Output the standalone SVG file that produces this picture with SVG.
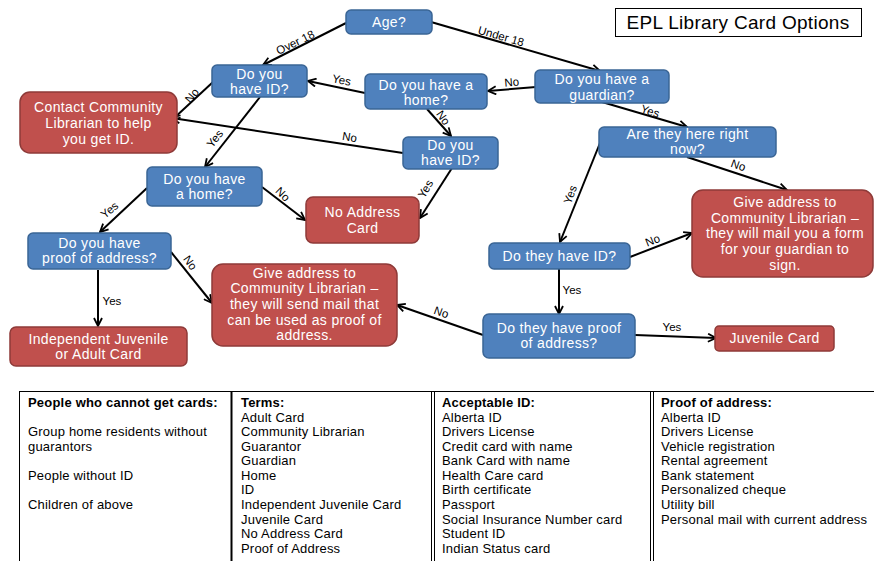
<svg xmlns="http://www.w3.org/2000/svg" width="874" height="561" viewBox="0 0 874 561">
<style>
.b{fill:#4F81BD;stroke:#3A6595;stroke-width:1.5}
.r{fill:#C0504D;stroke:#8E3A38;stroke-width:1.5}
.t{font-family:"Liberation Sans",Arial,sans-serif;font-size:14px;fill:#fff;text-anchor:middle;letter-spacing:0.35px}
.c{stroke:#000;stroke-width:2;fill:none;marker-end:url(#arr)}
.l{font-family:"Liberation Sans",Arial,sans-serif;font-size:11.5px;fill:#000;text-anchor:middle}
.tb{font-family:"Liberation Sans",Arial,sans-serif;font-size:13px;fill:#000;letter-spacing:0.2px}
.h{font-weight:bold}
.g{stroke:#000;stroke-width:1;fill:none}
</style>
<defs>
<marker id="arr" viewBox="0 0 10 10" refX="9" refY="5" markerWidth="10" markerHeight="10" markerUnits="userSpaceOnUse" orient="auto">
<path d="M1,1 L9,5 L1,9" fill="none" stroke="#000" stroke-width="1.8"/>
</marker>
</defs>
<rect width="874" height="561" fill="#fff"/>

<g id="title">
<rect x="615.5" y="8.5" width="246" height="28" fill="#fff" stroke="#000" stroke-width="1"/>
<text x="738" y="29" font-family="Liberation Sans,Arial,sans-serif" font-size="19" text-anchor="middle" letter-spacing="0.3">EPL Library Card Options</text>
</g>

<g id="connectors">
<line class="c" x1="346" y1="23" x2="263" y2="65"/>
<line class="c" x1="431" y1="22" x2="600" y2="71"/>
<line class="c" x1="536" y1="87" x2="488" y2="91"/>
<line class="c" x1="365" y1="93" x2="308" y2="81"/>
<line class="c" x1="213" y1="82" x2="172" y2="120"/>
<line class="c" x1="260" y1="97" x2="205" y2="167"/>
<line class="c" x1="427" y1="109" x2="451" y2="136"/>
<line class="c" x1="403" y1="153" x2="172" y2="118"/>
<line class="c" x1="452" y1="168" x2="420" y2="218"/>
<line class="c" x1="262" y1="187" x2="305" y2="220"/>
<line class="c" x1="147" y1="188" x2="100" y2="232"/>
<line class="c" x1="171" y1="252" x2="212" y2="303"/>
<line class="c" x1="98" y1="270" x2="98" y2="326"/>
<line class="c" x1="602" y1="102" x2="687" y2="127"/>
<line class="c" x1="600" y1="143" x2="560" y2="242"/>
<line class="c" x1="687" y1="157" x2="787" y2="190"/>
<line class="c" x1="630" y1="257" x2="692" y2="233"/>
<line class="c" x1="559" y1="268" x2="559" y2="314"/>
<line class="c" x1="483" y1="335" x2="397" y2="305"/>
<line class="c" x1="635" y1="335" x2="716" y2="338"/>
<text class="l" transform="translate(297,46) rotate(-26)">Over 18</text>
<text class="l" transform="translate(500,40) rotate(16)">Under 18</text>
<text class="l" transform="translate(512,86) rotate(-5)">No</text>
<text class="l" transform="translate(341,84) rotate(10)">Yes</text>
<text class="l" transform="translate(195,98) rotate(-50)">No</text>
<text class="l" transform="translate(218,141) rotate(-52)">Yes</text>
<text class="l" transform="translate(440,120) rotate(55)">No</text>
<text class="l" transform="translate(349,141) rotate(9)">No</text>
<text class="l" transform="translate(429,191) rotate(-60)">Yes</text>
<text class="l" transform="translate(280,197) rotate(45)">No</text>
<text class="l" transform="translate(112,213) rotate(-40)">Yes</text>
<text class="l" transform="translate(187,265) rotate(55)">No</text>
<text class="l" x="112" y="305">Yes</text>
<text class="l" transform="translate(649,115) rotate(18)">Yes</text>
<text class="l" transform="translate(737,169) rotate(20)">No</text>
<text class="l" transform="translate(574,196) rotate(-70)">Yes</text>
<text class="l" transform="translate(654,244) rotate(-22)">No</text>
<text class="l" x="572" y="294">Yes</text>
<text class="l" transform="translate(440,316) rotate(20)">No</text>
<text class="l" x="672" y="331">Yes</text>
</g>

<g id="age">
<rect class="b" x="346" y="10" width="86" height="24" rx="5"/>
<text class="t" x="389" y="27">Age?</text>
</g>
<g id="id1">
<rect class="b" x="212" y="65" width="95" height="32" rx="5"/>
<text class="t" x="259.5" y="79">Do you</text>
<text class="t" x="259.5" y="94">have ID?</text>
</g>
<g id="home1">
<rect class="b" x="365" y="74" width="122" height="35" rx="5"/>
<text class="t" x="426" y="90">Do you have a</text>
<text class="t" x="426" y="105">home?</text>
</g>
<g id="guardian">
<rect class="b" x="535" y="70" width="134" height="33" rx="5"/>
<text class="t" x="602" y="84">Do you have a</text>
<text class="t" x="602" y="99.5">guardian?</text>
</g>
<g id="contact">
<rect class="r" x="20" y="92" width="157" height="61" rx="10"/>
<text class="t" x="98.5" y="112">Contact Community</text>
<text class="t" x="98.5" y="128">Librarian to help</text>
<text class="t" x="98.5" y="144">you get ID.</text>
</g>
<g id="id2">
<rect class="b" x="403" y="137" width="95" height="32" rx="5"/>
<text class="t" x="450.5" y="150">Do you</text>
<text class="t" x="450.5" y="165">have ID?</text>
</g>
<g id="here">
<rect class="b" x="599" y="127" width="177" height="30" rx="5"/>
<text class="t" x="687.5" y="139">Are they here right</text>
<text class="t" x="687.5" y="154">now?</text>
</g>
<g id="home2">
<rect class="b" x="147" y="167" width="115" height="39" rx="5"/>
<text class="t" x="204.5" y="184">Do you have</text>
<text class="t" x="204.5" y="199">a home?</text>
</g>
<g id="noaddress">
<rect class="r" x="306" y="197" width="113" height="46" rx="7"/>
<text class="t" x="362.5" y="217">No Address</text>
<text class="t" x="362.5" y="233">Card</text>
</g>
<g id="proof1">
<rect class="b" x="28" y="233" width="143" height="36" rx="5"/>
<text class="t" x="99.5" y="248">Do you have</text>
<text class="t" x="99.5" y="263">proof of address?</text>
</g>
<g id="give1">
<rect class="r" x="212" y="264" width="185" height="82" rx="11"/>
<text class="t" x="304.5" y="278">Give address to</text>
<text class="t" x="304.5" y="293">Community Librarian –</text>
<text class="t" x="304.5" y="309">they will send mail that</text>
<text class="t" x="304.5" y="325">can be used as proof of</text>
<text class="t" x="304.5" y="340">address.</text>
</g>
<g id="ij">
<rect class="r" x="10" y="327" width="177" height="39" rx="6"/>
<text class="t" x="98.5" y="344">Independent Juvenile</text>
<text class="t" x="98.5" y="359">or Adult Card</text>
</g>
<g id="give2">
<rect class="r" x="692" y="190" width="181" height="87" rx="11"/>
<text class="t" x="785" y="207">Give address to</text>
<text class="t" x="785" y="223">Community Librarian –</text>
<text class="t" x="785" y="238">they will mail you a form</text>
<text class="t" x="785" y="254">for your guardian to</text>
<text class="t" x="785" y="270">sign.</text>
</g>
<g id="theyid">
<rect class="b" x="489" y="243" width="141" height="26" rx="5"/>
<text class="t" x="559.5" y="261">Do they have ID?</text>
</g>
<g id="proof2">
<rect class="b" x="483" y="314" width="152" height="44" rx="6"/>
<text class="t" x="559" y="333">Do they have proof</text>
<text class="t" x="559" y="348">of address?</text>
</g>
<g id="juvenile">
<rect class="r" x="715" y="326" width="119" height="25" rx="4"/>
<text class="t" x="774.5" y="343">Juvenile Card</text>
</g>

<g id="table">
<line class="g" x1="19" y1="391.5" x2="874" y2="391.5"/>
<line class="g" x1="19.5" y1="391" x2="19.5" y2="561"/>
<line x1="231.5" y1="391" x2="231.5" y2="561" stroke="#000" stroke-width="2"/>
<line class="g" x1="431.5" y1="391" x2="431.5" y2="561"/>
<line class="g" x1="434.5" y1="391" x2="434.5" y2="561"/>
<line class="g" x1="650.5" y1="391" x2="650.5" y2="561"/>
<line class="g" x1="653.5" y1="391" x2="653.5" y2="561"/>
<text class="tb h" x="28" y="407">People who cannot get cards:</text>
<text class="tb" x="28" y="436">Group home residents without</text>
<text class="tb" x="28" y="451">guarantors</text>
<text class="tb" x="28" y="480">People without ID</text>
<text class="tb" x="28" y="509">Children of above</text>
<text class="tb h" x="241" y="407">Terms:</text>
<text class="tb" x="241" y="422">Adult Card</text>
<text class="tb" x="241" y="436">Community Librarian</text>
<text class="tb" x="241" y="451">Guarantor</text>
<text class="tb" x="241" y="465">Guardian</text>
<text class="tb" x="241" y="480">Home</text>
<text class="tb" x="241" y="494">ID</text>
<text class="tb" x="241" y="509">Independent Juvenile Card</text>
<text class="tb" x="241" y="524">Juvenile Card</text>
<text class="tb" x="241" y="538">No Address Card</text>
<text class="tb" x="241" y="553">Proof of Address</text>
<text class="tb h" x="442" y="407">Acceptable ID:</text>
<text class="tb" x="442" y="422">Alberta ID</text>
<text class="tb" x="442" y="436">Drivers License</text>
<text class="tb" x="442" y="451">Credit card with name</text>
<text class="tb" x="442" y="465">Bank Card with name</text>
<text class="tb" x="442" y="480">Health Care card</text>
<text class="tb" x="442" y="494">Birth certificate</text>
<text class="tb" x="442" y="509">Passport</text>
<text class="tb" x="442" y="524">Social Insurance Number card</text>
<text class="tb" x="442" y="538">Student ID</text>
<text class="tb" x="442" y="553">Indian Status card</text>
<text class="tb h" x="661" y="407">Proof of address:</text>
<text class="tb" x="661" y="422">Alberta ID</text>
<text class="tb" x="661" y="436">Drivers License</text>
<text class="tb" x="661" y="451">Vehicle registration</text>
<text class="tb" x="661" y="465">Rental agreement</text>
<text class="tb" x="661" y="480">Bank statement</text>
<text class="tb" x="661" y="494">Personalized cheque</text>
<text class="tb" x="661" y="509">Utility bill</text>
<text class="tb" x="661" y="524">Personal mail with current address</text>
</g>
</svg>
